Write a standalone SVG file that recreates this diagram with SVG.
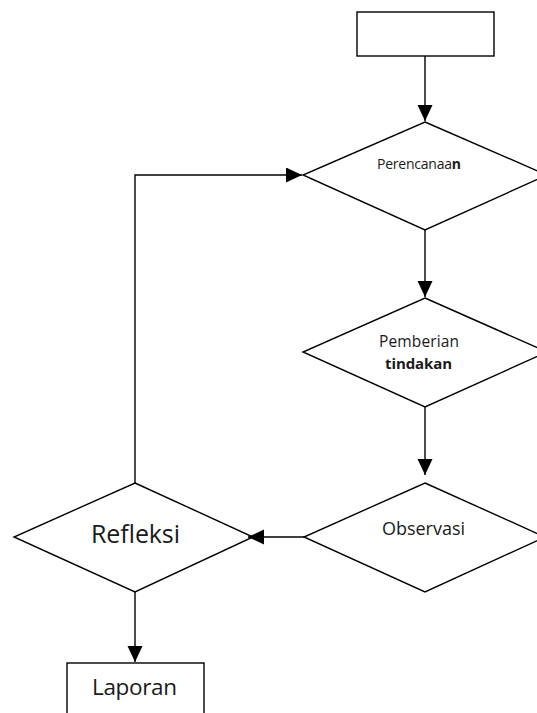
<svg xmlns="http://www.w3.org/2000/svg" width="537" height="713" viewBox="0 0 537 713">
<style>
.s{fill:#fff;stroke:#000;stroke-width:1.4}
.c{fill:none;stroke:#000;stroke-width:1.4}
text{font-family:"Open Sans","Noto Sans",sans-serif;fill:#1a1a1a}
</style>
<defs>
<marker id="a" markerWidth="16" markerHeight="16" refX="16" refY="7.5" orient="auto" markerUnits="userSpaceOnUse">
<path d="M0,0 L16,7.5 L0,15 Z" fill="#000"/>
</marker>
</defs>
<rect width="537" height="713" fill="#fff"/>
<g id="start"><rect class="s" x="357" y="12" width="137" height="44"/></g>
<g id="perencanaan"><polygon class="s" points="425,122 547,175 425,230 303,175"/>
<text x="377" y="169" font-size="14" textLength="84">Perencanaa<tspan font-weight="bold">n</tspan></text></g>
<g id="pemberian"><polygon class="s" points="425,298 547,352 425,407 303,352"/>
<text x="379" y="347" font-size="15.5" textLength="80">Pemberian</text>
<text x="385" y="369" font-size="15" font-weight="bold" textLength="67">tindakan</text></g>
<g id="observasi"><polygon class="s" points="425,483 545,537 425,592 304,537"/>
<text x="382" y="535" font-size="18" textLength="83">Observasi</text></g>
<g id="refleksi"><polygon class="s" points="135,483 253,537 135,592 14,537"/>
<text x="91" y="543" font-size="25" textLength="89">Refleksi</text></g>
<g id="laporan"><rect class="s" x="67" y="663" width="137" height="60"/>
<text x="92" y="695" font-size="22.5" textLength="85">Laporan</text></g>
<g id="connectors">
<path class="c" d="M425,56 V121" marker-end="url(#a)"/>
<path class="c" d="M425,230 V297" marker-end="url(#a)"/>
<path class="c" d="M425,407 V475" marker-end="url(#a)"/>
<path class="c" d="M304,537 H248" marker-end="url(#a)"/>
<path class="c" d="M135,592 V662" marker-end="url(#a)"/>
<path class="c" d="M135,483 V175 H302" marker-end="url(#a)"/>
</g>
</svg>
